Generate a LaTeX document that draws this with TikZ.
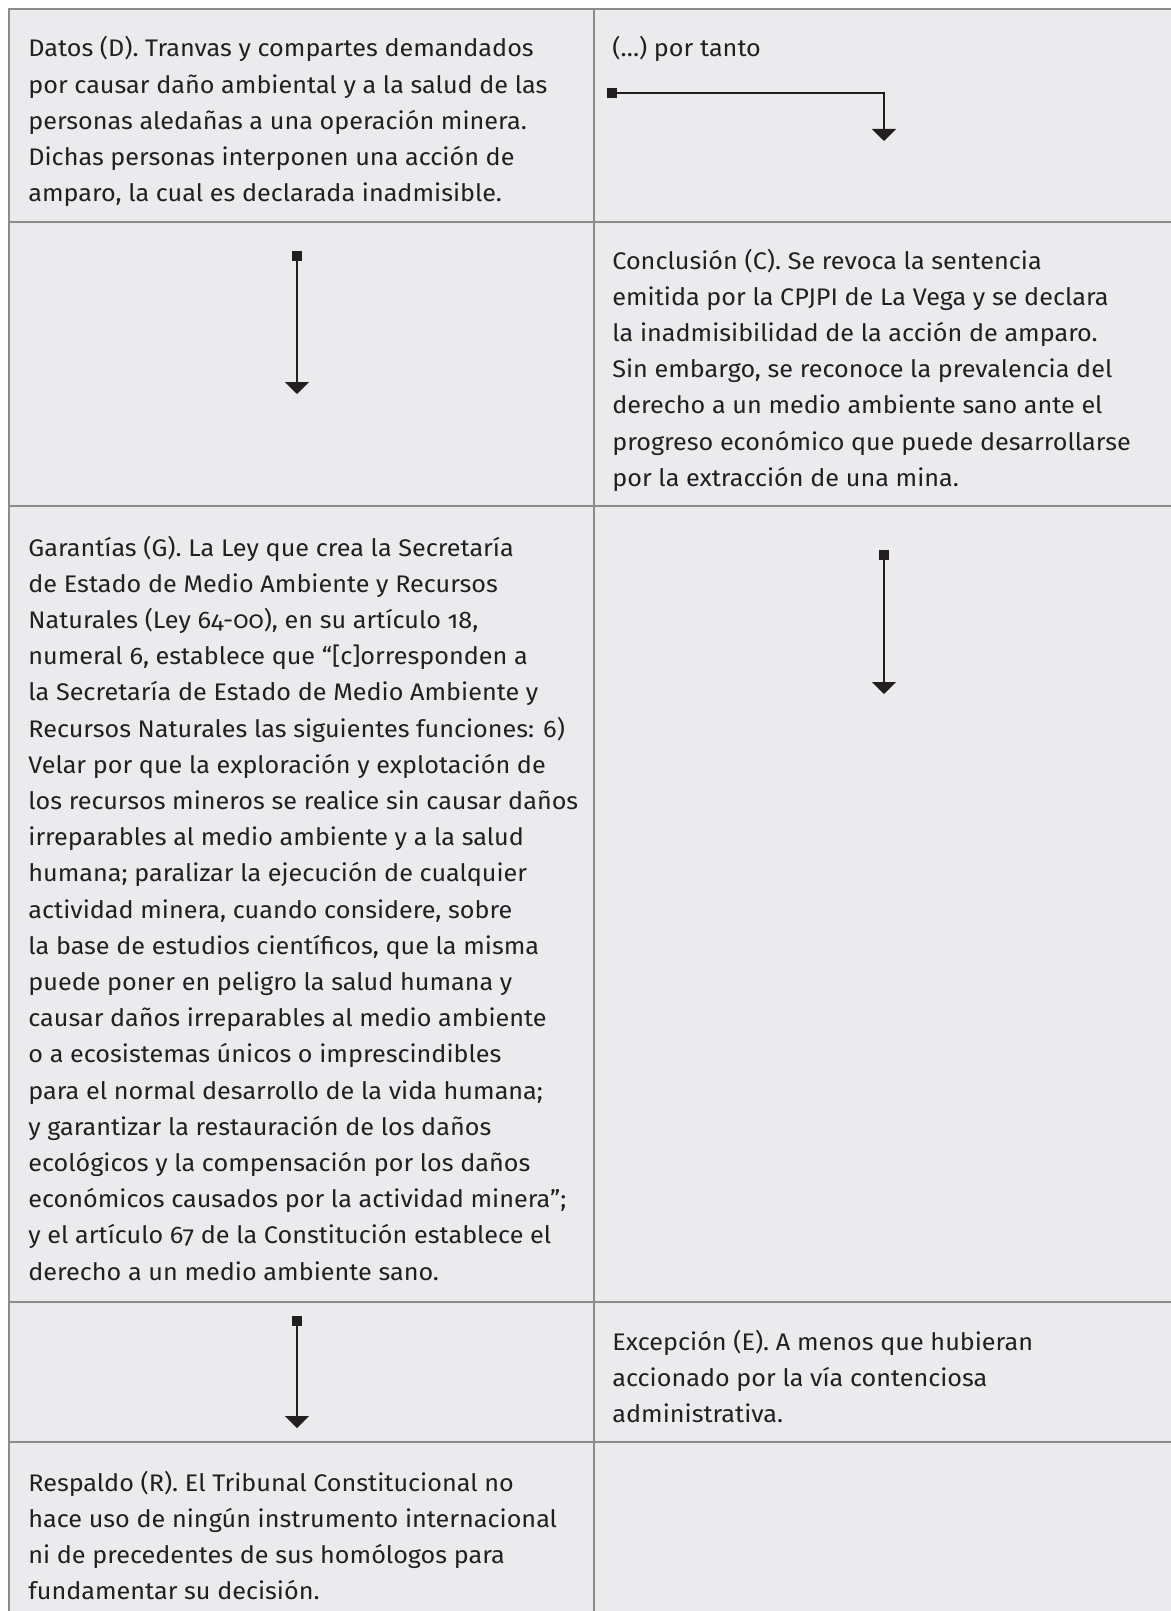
\documentclass[tikz,border=0pt]{standalone}
\usepackage{fontspec}
\setmainfont[Numbers=OldStyle, FakeStretch=1.05]{Fira Sans}
\usetikzlibrary{arrows.meta}
\definecolor{cellgray}{RGB}{235,235,237}
\definecolor{rulegray}{RGB}{140,140,140}
\definecolor{inkblack}{RGB}{35,31,32}
\newcommand{\celllines}[1]{\begin{tabular}[t]{@{}l@{}}#1\end{tabular}}

\begin{document}
\begin{tikzpicture}[x=0.5pt, y=-0.5pt]
    \tikzset{
        cell text/.style={anchor=base west, inner sep=0pt, text=inkblack,
            font=\fontsize{12}{18.1}\selectfont},
        table rule/.style={draw=rulegray, line width=1pt},
        flow/.style={line width=1pt, draw=inkblack,
            {Square[length=5pt,width=5pt]}-{Triangle[width=12pt,length=6pt]}}
    }
    \useasboundingbox (0,0) rectangle (1171,1611);
    \fill[white] (0,0) rectangle (1171,1611);
    \fill[cellgray] (9,9) rectangle (1171,1611);
    % table lines
    \draw[table rule] (1171,9) -- (9,9) -- (9,1611);
    \draw[table rule] (594,9) -- (594,1611);
    \foreach \y in {222,506,1302,1442}{
    \draw[table rule] (9,\y) -- (1171,\y);
    }
    % cell texts
    \node[cell text] (datos) at (28,57) {\celllines{Datos (D). Tranvas y compartes demandados\\
        por causar daño ambiental y a la salud de las\\
        personas aledañas a una operación minera.\\
        Dichas personas interponen una acción de\\
        amparo, la cual es declarada inadmisible.}};
    \node[cell text] (portanto) at (612,57) {(…) por tanto};
    \node[cell text] (conclusion) at (612,269) {\celllines{Conclusión (C). Se revoca la sentencia\\
        emitida por la CPJPI de La Vega y se declara\\
        la inadmisibilidad de la acción de amparo.\\
        Sin embargo, se reconoce la prevalencia del\\
        derecho a un medio ambiente sano ante el\\
        progreso económico que puede desarrollarse\\
        por la extracción de una mina.}};
    \node[cell text] (garantias) at (28,556) {\celllines{Garantías (G). La Ley que crea la Secretaría\\
        de Estado de Medio Ambiente y Recursos\\
        Naturales (Ley 64-00), en su artículo 18,\\
        numeral 6, establece que “{[}c{]}orresponden a\\
        la Secretaría de Estado de Medio Ambiente y\\
        Recursos Naturales las siguientes funciones: 6)\\
        Velar por que la exploración y explotación de\\
        los recursos mineros se realice sin causar daños\\
        irreparables al medio ambiente y a la salud\\
        humana; paralizar la ejecución de cualquier\\
        actividad minera, cuando considere, sobre\\
        la base de estudios científicos, que la misma\\
        puede poner en peligro la salud humana y\\
        causar daños irreparables al medio ambiente\\
        o a ecosistemas únicos o imprescindibles\\
        para el normal desarrollo de la vida humana;\\
        y garantizar la restauración de los daños\\
        ecológicos y la compensación por los daños\\
        económicos causados por la actividad minera”;\\
        y el artículo 67 de la Constitución establece el\\
        derecho a un medio ambiente sano.}};
    \node[cell text] (excepcion) at (612,1350) {\celllines{Excepción (E). A menos que hubieran\\
        accionado por la vía contenciosa\\
        administrativa.}};
    \node[cell text] (respaldo) at (28,1491) {\celllines{Respaldo (R). El Tribunal Constitucional no\\
        hace uso de ningún instrumento internacional\\
        ni de precedentes de sus homólogos para\\
        fundamentar su decisión.}};
    % arrows
    \coordinate (a1s) at (607,93);
    \coordinate (a1e) at (884,141);
    \coordinate (a2s) at (297,251);
    \coordinate (a2e) at (297,394);
    \coordinate (a3s) at (884,550);
    \coordinate (a3e) at (884,694);
    \coordinate (a4s) at (297,1316);
    \coordinate (a4e) at (297,1428);
    \draw[flow] (a1s) -| (a1e);
    \draw[flow] (a2s) -- (a2e);
    \draw[flow] (a3s) -- (a3e);
    \draw[flow] (a4s) -- (a4e);
\end{tikzpicture}
\end{document}
